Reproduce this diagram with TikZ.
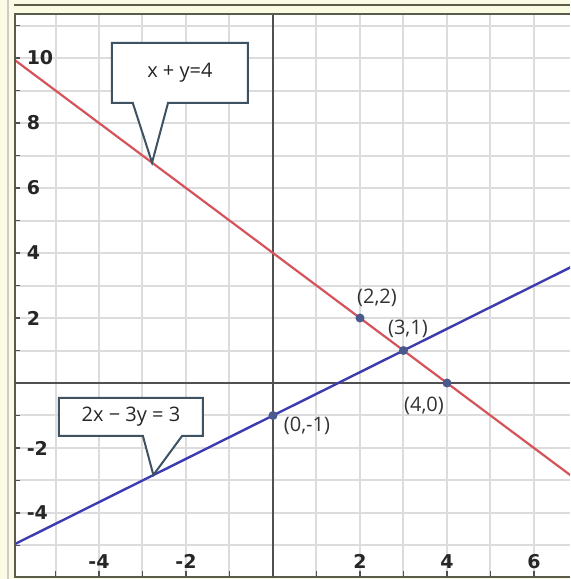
\documentclass[tikz,border=0pt]{standalone}
\usepackage{fontspec}
\setmainfont{Open Sans}
\newfontfamily\axisfont{DejaVu Sans}
\usetikzlibrary{calc,positioning}
\definecolor{framecream}{HTML}{FBFBE4}
\definecolor{frameline}{HTML}{5A5C4A}
\definecolor{gridgray}{HTML}{DCDCDC}
\definecolor{axisgray}{HTML}{505050}
\definecolor{linered}{HTML}{D4545A}
\definecolor{lineblue}{HTML}{3C3CB0}
\definecolor{dotblue}{HTML}{4A5A8C}
\definecolor{calloutline}{HTML}{3E5262}

\begin{document}
\begin{tikzpicture}[x=21.75pt,y=16.25pt,font=\fontsize{10}{12}\selectfont,
  gridline/.style={gridgray,line width=1pt},
  axisline/.style={axisgray,line width=1.3pt},
  tickmark/.style={axisgray,line width=0.8pt},
  ticklabel/.style={font=\axisfont\bfseries\fontsize{9.5}{11}\selectfont,text=black!85,inner sep=0pt},
  redline/.style={linered,line width=1.1pt},
  blueline/.style={lineblue,line width=1.2pt},
  dot/.style={circle,fill=dotblue,inner sep=0pt,minimum size=4.5pt},
  ptlabel/.style={text=black!80,inner sep=0pt},
  eqbox/.style={inner sep=0pt,outer sep=0pt,text=black!85},
  callout/.style={calloutline,line width=1pt,fill=white,line join=miter}]
  \useasboundingbox (-6.276,-6.031) rectangle (6.828,11.785);
  % frame
  \fill[framecream] (-6.276,-6.031) rectangle (6.828,11.785);
  \fill[white] (-5.931,-5.969) rectangle (6.828,11.354);
  \draw[black!20,line width=0.6pt] (-6.092,-6.031) -- (-6.092,11.785);
  \draw[frameline,line width=1.2pt] (-5.954,11.631) -- (6.828,11.631);
  \begin{scope}
    \clip (-5.931,-5.969) rectangle (6.828,11.354);
    \foreach \gx in {-5,...,6} \draw[gridline] (\gx,-5.969) -- (\gx,11.354);
    \foreach \gy in {-5,...,11} \draw[gridline] (-5.931,\gy) -- (6.828,\gy);
    \draw[axisline] (-5.931,0) -- (6.828,0);
    \draw[axisline] (0,-5.969) -- (0,11.354);
    % the two lines
    \coordinate (r1) at (-6,10);
    \coordinate (r2) at (7,-3);
    \draw[redline] (r1) -- (r2);
    \coordinate (b1) at (-6,-5);
    \coordinate (b2) at (7,{11/3});
    \draw[blueline] (b1) -- (b2);
  \end{scope}
  \draw[frameline,line width=1pt] (6.828,11.354) -- (-5.931,11.354) -- (-5.931,-5.969) -- (6.828,-5.969);
  % ticks and numbers
  \foreach \gy in {-5,...,11} \draw[tickmark] (-5.931,\gy) -- ++(2.5pt,0);
  \foreach \gx in {-5,...,6} \draw[tickmark] (\gx,-5.969) -- ++(0,3pt);
  \foreach \v in {-4,-2,2,4,6,8,10}
    \node[ticklabel,anchor=west] (ylab\v) at (-5.67,\v) {\v};
  \foreach \v in {-4,-2,2,4,6}
    \node[ticklabel] (xlab\v) at (\v,-5.5) {\v};
  % callouts
  \node[eqbox,minimum width=68pt,minimum height=30pt] (eq1) at (-2.14,9.54) {};
  \coordinate (tip1) at (-2.78,6.78);
  \draw[callout] (eq1.south west) -- (eq1.north west) -- (eq1.north east) -- (eq1.south east)
    -- ($(eq1.south west)+(1.29,0)$) -- (tip1) -- ($(eq1.south west)+(0.48,0)$) -- cycle;
  \node[eqbox] at (eq1) {x + y=4};
  \node[eqbox,minimum width=72pt,minimum height=19pt] (eq2) at (-3.265,-1.045) {};
  \coordinate (tip2) at (-2.75,-2.83);
  \draw[callout] (eq2.south west) -- (eq2.north west) -- (eq2.north east) -- (eq2.south east)
    -- ($(eq2.south west)+(2.83,0)$) -- (tip2) -- ($(eq2.south west)+(1.93,0)$) -- cycle;
  \node[eqbox] at (eq2) {2x − 3y = 3};
  % points
  \node[dot] (p22) at (2,2) {};
  \node[dot] (p31) at (3,1) {};
  \node[dot] (p40) at (4,0) {};
  \node[dot] (p0m1) at (0,-1) {};
  \node[ptlabel,xshift=8.5pt,yshift=10pt] at (p22) {(2,2)};
  \node[ptlabel,xshift=2.2pt,yshift=10.7pt] at (p31) {(3,1)};
  \node[ptlabel,xshift=-11.5pt,yshift=-11.5pt] at (p40) {(4,0)};
  \node[ptlabel,xshift=17pt,yshift=-5.2pt] at (p0m1) {(0,-1)};
\end{tikzpicture}
\end{document}
